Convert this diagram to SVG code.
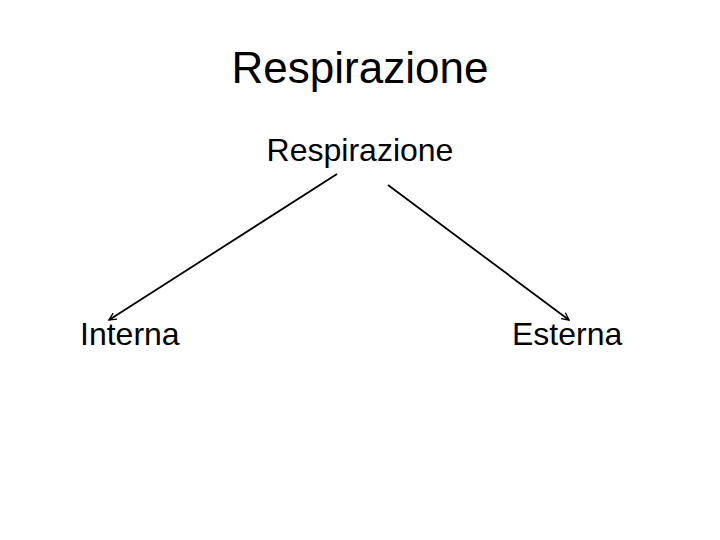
<svg xmlns="http://www.w3.org/2000/svg" width="720" height="540" viewBox="0 0 720 540">
<defs>
<style>
text{font-family:"Liberation Sans",Arial,sans-serif;fill:#000}
.t{font-size:44px}
.n{font-size:32px}
.c{stroke:#000;stroke-width:1.8;fill:none}
</style>
<marker id="ah" viewBox="0 0 10 10" refX="9" refY="5" markerWidth="9" markerHeight="9" markerUnits="userSpaceOnUse" orient="auto">
<path d="M1,1 L9,5 L1,9" fill="none" stroke="#000" stroke-width="1.5"/>
</marker>
</defs>
<rect width="720" height="540" fill="#fff"/>
<text class="t" x="360" y="83" text-anchor="middle">Respirazione</text>
<g id="root"><text class="n" x="360" y="161" text-anchor="middle">Respirazione</text></g>
<g id="interna"><text class="n" x="80" y="345">Interna</text></g>
<g id="esterna"><text class="n" x="512" y="345">Esterna</text></g>
<g id="connectors">
<line class="c" x1="337" y1="174" x2="109" y2="320" marker-end="url(#ah)"/>
<line class="c" x1="388" y1="185" x2="569" y2="320" marker-end="url(#ah)"/>
</g>
</svg>
